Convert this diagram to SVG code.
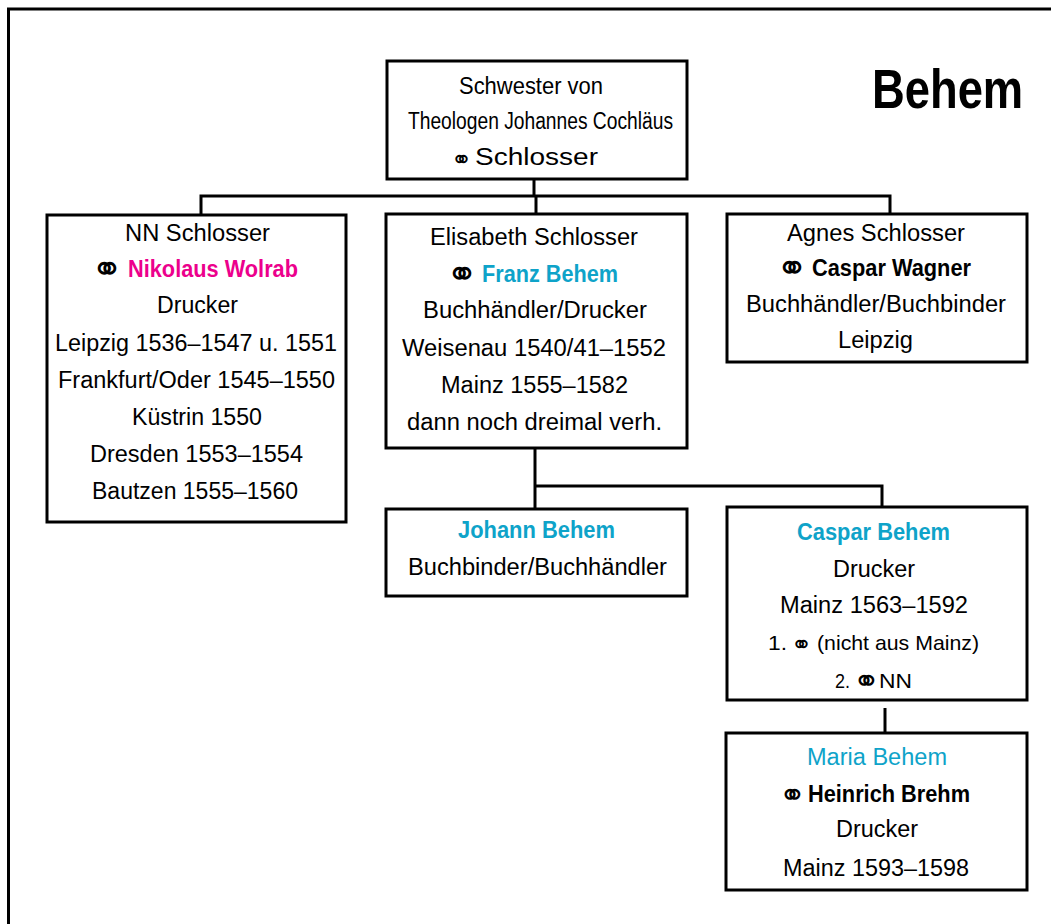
<svg xmlns="http://www.w3.org/2000/svg" width="1051" height="924" viewBox="0 0 1051 924">
<style>
.t{font-family:"Liberation Sans",Arial,sans-serif;font-size:23px;fill:#000}
.sm{font-size:21px}
.ttl{font-size:56px;font-weight:bold}
.b{font-weight:bold}
.pk{fill:#ec008c}
.bl{fill:#0ea3c9}
.s{font-family:"DejaVu Sans",sans-serif;font-size:38px;fill:#000}
.s2{font-size:25px}
.s3{font-size:32px}
.box{fill:#fff;stroke:#000;stroke-width:3}
.con{fill:none;stroke:#000;stroke-width:3}
</style>
<rect x="0" y="0" width="1051" height="924" fill="#fff"/>
<rect x="8.5" y="9" width="1100" height="1000" fill="none" stroke="#000" stroke-width="3"/>
<text class="t ttl" transform="translate(872,108) scale(0.81,1)" x="0" y="0">Behem</text>
<g id="connectors">
<path class="con" d="M534 179 V196"/>
<path class="con" d="M201 215 V196 H890 V214"/>
<path class="con" d="M536 196 V214"/>
<path class="con" d="M535 448 V509"/>
<path class="con" d="M535 486 H882 V507"/>
<path class="con" d="M885 708 V733"/>
</g>
<g id="n-top">
<rect class="box" x="387" y="61" width="300" height="118"/>
<text class="t" x="459" y="94" textLength="144" lengthAdjust="spacingAndGlyphs">Schwester von</text>
<text class="t" x="408" y="129" textLength="265" lengthAdjust="spacingAndGlyphs">Theologen Johannes Cochläus</text>
<text class="s s2" x="451" y="168">⚭</text>
<text class="t" x="475" y="165" textLength="123" lengthAdjust="spacingAndGlyphs">Schlosser</text>
</g>
<g id="n-left">
<rect class="box" x="47" y="215" width="299" height="307"/>
<text class="t" x="125" y="241" textLength="145" lengthAdjust="spacingAndGlyphs">NN Schlosser</text>
<text class="s" x="91" y="282">⚭</text>
<text class="t b pk" x="128" y="277" textLength="170" lengthAdjust="spacingAndGlyphs">Nikolaus Wolrab</text>
<text class="t" x="157" y="313" textLength="81" lengthAdjust="spacingAndGlyphs">Drucker</text>
<text class="t" x="55" y="351" textLength="282" lengthAdjust="spacingAndGlyphs">Leipzig 1536–1547 u. 1551</text>
<text class="t" x="58" y="388" textLength="277" lengthAdjust="spacingAndGlyphs">Frankfurt/Oder 1545–1550</text>
<text class="t" x="132" y="425" textLength="130" lengthAdjust="spacingAndGlyphs">Küstrin 1550</text>
<text class="t" x="90" y="462" textLength="213" lengthAdjust="spacingAndGlyphs">Dresden 1553–1554</text>
<text class="t" x="92" y="499" textLength="206" lengthAdjust="spacingAndGlyphs">Bautzen 1555–1560</text>
</g>
<g id="n-mid">
<rect class="box" x="386" y="214" width="301" height="234"/>
<text class="t" x="430" y="245" textLength="208" lengthAdjust="spacingAndGlyphs">Elisabeth Schlosser</text>
<text class="s" x="446" y="287">⚭</text>
<text class="t b bl" x="482" y="282" textLength="136" lengthAdjust="spacingAndGlyphs">Franz Behem</text>
<text class="t" x="423" y="318" textLength="224" lengthAdjust="spacingAndGlyphs">Buchhändler/Drucker</text>
<text class="t" x="402" y="356" textLength="264" lengthAdjust="spacingAndGlyphs">Weisenau 1540/41–1552</text>
<text class="t" x="441" y="393" textLength="187" lengthAdjust="spacingAndGlyphs">Mainz 1555–1582</text>
<text class="t" x="407" y="430" textLength="255" lengthAdjust="spacingAndGlyphs">dann noch dreimal verh.</text>
</g>
<g id="n-right">
<rect class="box" x="727" y="214" width="300" height="148"/>
<text class="t" x="787" y="241" textLength="178" lengthAdjust="spacingAndGlyphs">Agnes Schlosser</text>
<text class="s" x="776" y="281">⚭</text>
<text class="t b" x="812" y="276" textLength="159" lengthAdjust="spacingAndGlyphs">Caspar Wagner</text>
<text class="t" x="746" y="312" textLength="260" lengthAdjust="spacingAndGlyphs">Buchhändler/Buchbinder</text>
<text class="t" x="838" y="348" textLength="75" lengthAdjust="spacingAndGlyphs">Leipzig</text>
</g>
<g id="n-johann">
<rect class="box" x="386" y="509" width="301" height="87"/>
<text class="t b bl" x="458" y="538" textLength="157" lengthAdjust="spacingAndGlyphs">Johann Behem</text>
<text class="t" x="408" y="575" textLength="259" lengthAdjust="spacingAndGlyphs">Buchbinder/Buchhändler</text>
</g>
<g id="n-caspar">
<rect class="box" x="727" y="507" width="300" height="193"/>
<text class="t b bl" x="797" y="540" textLength="153" lengthAdjust="spacingAndGlyphs">Caspar Behem</text>
<text class="t" x="833" y="577" textLength="82" lengthAdjust="spacingAndGlyphs">Drucker</text>
<text class="t" x="780" y="613" textLength="188" lengthAdjust="spacingAndGlyphs">Mainz 1563–1592</text>
<text class="t sm" x="768" y="650" textLength="19" lengthAdjust="spacingAndGlyphs">1.</text>
<text class="s s2" x="791" y="653">⚭</text>
<text class="t sm" x="817" y="650" textLength="162" lengthAdjust="spacingAndGlyphs">(nicht aus Mainz)</text>
<text class="t sm" x="835" y="688" textLength="15" lengthAdjust="spacingAndGlyphs">2.</text>
<text class="s s3" x="853" y="692">⚭</text>
<text class="t sm" x="879" y="688" textLength="33" lengthAdjust="spacingAndGlyphs">NN</text>
</g>
<g id="n-maria">
<rect class="box" x="726" y="733" width="301" height="157"/>
<text class="t bl" x="807" y="765" textLength="140" lengthAdjust="spacingAndGlyphs">Maria Behem</text>
<text class="s s3" x="779" y="806">⚭</text>
<text class="t b" x="808" y="802" textLength="162" lengthAdjust="spacingAndGlyphs">Heinrich Brehm</text>
<text class="t" x="836" y="837" textLength="82" lengthAdjust="spacingAndGlyphs">Drucker</text>
<text class="t" x="783" y="876" textLength="186" lengthAdjust="spacingAndGlyphs">Mainz 1593–1598</text>
</g>
</svg>
